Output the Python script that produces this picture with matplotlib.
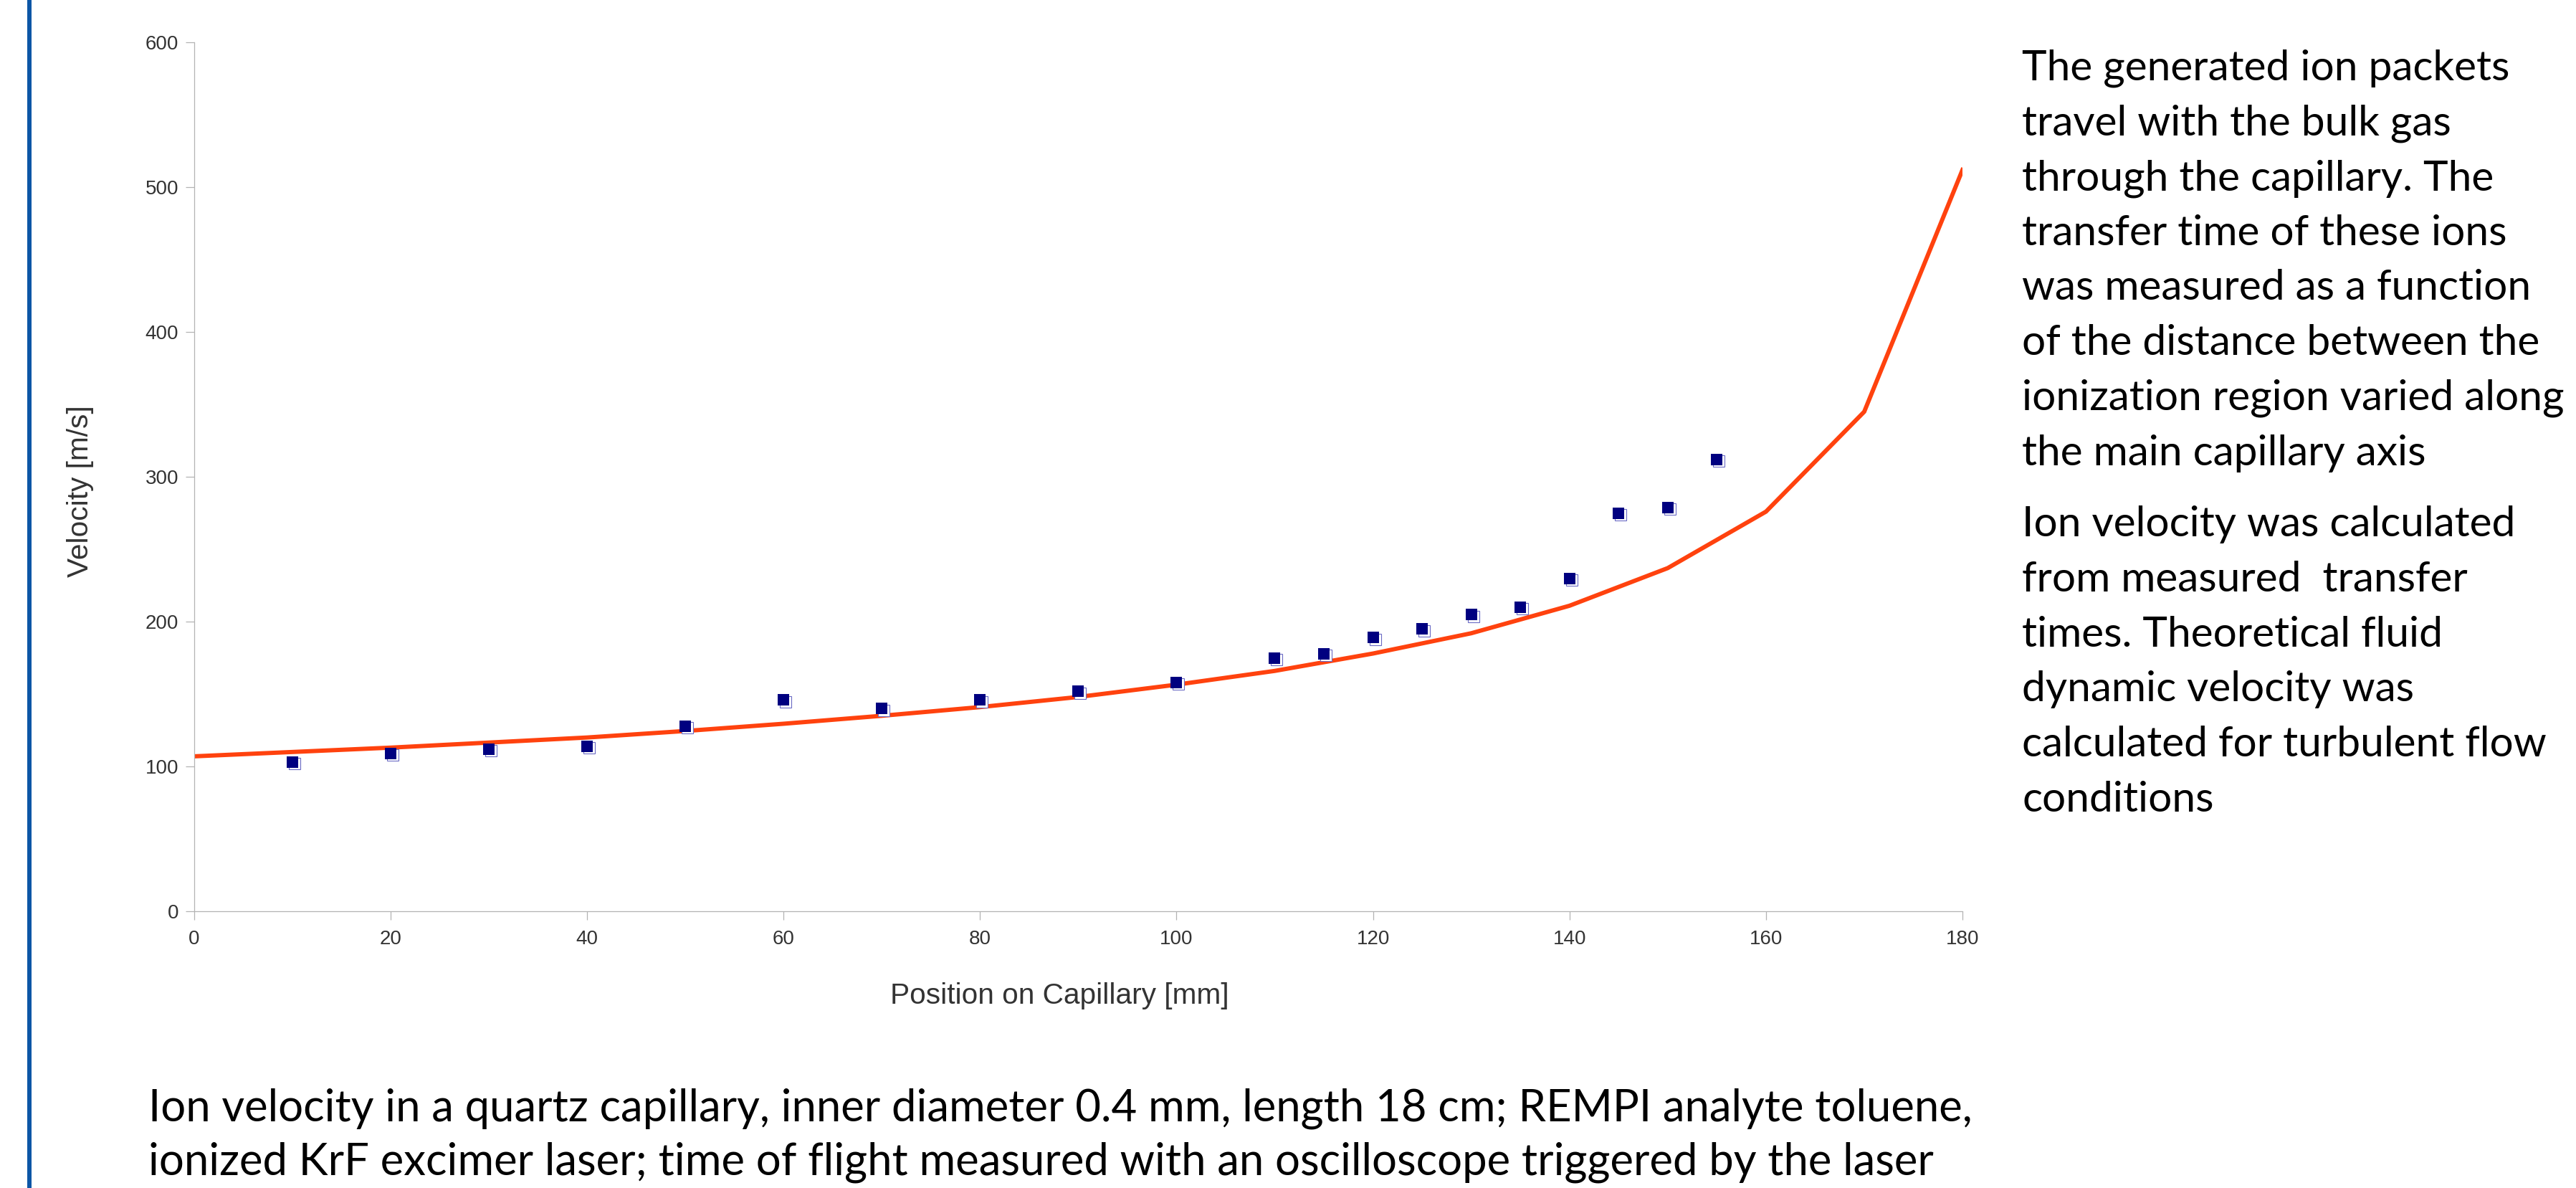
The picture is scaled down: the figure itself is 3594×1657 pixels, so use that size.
import matplotlib
matplotlib.use("Agg")
import matplotlib.pyplot as plt
import matplotlib.transforms as mtransforms
from matplotlib.patches import Rectangle

# Measured ion velocities along the capillary
pos_measured = [10, 20, 30, 40, 50, 60, 70, 80, 90, 100, 110, 115, 120, 125,
                130, 135, 140, 145, 150, 155]
vel_measured = [103, 109, 112, 114, 128, 146, 140, 146, 152, 158, 175, 178,
                189, 195, 205, 210, 230, 275, 279, 312]

# Theoretical turbulent-flow velocity
pos_theory = [0, 10, 20, 30, 40, 50, 60, 70, 80, 90, 100, 110, 120, 130, 140,
              150, 160, 170, 180]
vel_theory = [107, 110, 113, 116.5, 120, 124.5, 129.5, 135, 141, 148, 156.5,
              166, 178, 192, 211, 237, 276, 345, 512]

x_ticks = list(range(0, 181, 20))
y_ticks = list(range(0, 601, 100))

side_par1 = [
    "The generated ion packets",
    "travel with the bulk gas",
    "through the capillary. The",
    "transfer time of these ions",
    "was measured as a function",
    "of the distance between the",
    "ionization region varied along",
    "the main capillary axis",
]
side_par2 = [
    "Ion velocity was calculated",
    "from measured  transfer",
    "times. Theoretical fluid",
    "dynamic velocity was",
    "calculated for turbulent flow",
    "conditions",
]
caption = [
    "Ion velocity in a quartz capillary, inner diameter 0.4 mm, length 18 cm; REMPI analyte toluene,",
    "ionized KrF excimer laser; time of flight measured with an oscilloscope triggered by the laser",
]

W, H, DPI = 3594, 1657, 100
fig = plt.figure(figsize=(W / DPI, H / DPI), dpi=DPI)
fig.patch.set_facecolor("white")


def fx(px):
    return px / W


def fy(py):
    return 1 - py / H


# slide accent bar on the left edge
fig.add_artist(Rectangle((fx(38.3), 0), fx(6), 1, transform=fig.transFigure,
                         facecolor="#0d56a6", edgecolor="none"))

ax = fig.add_axes([fx(270.7), fy(1271), fx(2738) - fx(270.7), fy(59.3) - fy(1271)])
ax.set_xlim(0, 180)
ax.set_ylim(0, 600)
ax.set_xticks(x_ticks)
ax.set_yticks(y_ticks)
for s in ("top", "right"):
    ax.spines[s].set_visible(False)
for s in ("left", "bottom"):
    ax.spines[s].set_color("#b3b3b3")
    ax.spines[s].set_linewidth(0.9)
ax.tick_params(axis="both", direction="out", length=8.6, width=0.9,
               color="#b3b3b3", labelcolor="#333333", labelsize=20)
ax.tick_params(axis="x", pad=10)
ax.tick_params(axis="y", pad=7)
for lab in ax.get_xticklabels() + ax.get_yticklabels():
    lab.set_family("Liberation Sans")

ax.plot(pos_theory, vel_theory, color="#ff420e", linewidth=4.3,
        solid_joinstyle="miter", zorder=2)

# marker shadow, offset a few pixels right/down
shadow = ax.transData + mtransforms.ScaledTranslation(3 / DPI, -2.5 / DPI,
                                                       fig.dpi_scale_trans)
ax.plot(pos_measured, vel_measured, linestyle="none", marker="s",
        markersize=11.5, markerfacecolor="white", markeredgecolor="#6a6ac4",
        markeredgewidth=0.8, transform=shadow, zorder=3)
ax.plot(pos_measured, vel_measured, linestyle="none", marker="s",
        markersize=11.5, markerfacecolor="#000080", markeredgewidth=0,
        zorder=4)

fig.canvas.draw()
renderer = fig.canvas.get_renderer()


def fit_size(text, family, target_px, base=40.0):
    t = fig.text(0, 0, text, fontsize=base, family=family)
    w = t.get_window_extent(renderer).width
    t.remove()
    return base * target_px / w


axis_font = "Liberation Sans"
lab_size = fit_size("Position on Capillary [mm]", axis_font, 472)
fig.text(fx(1478), fy(1389), "Position on Capillary [mm]", family=axis_font,
         fontsize=lab_size, color="#333333", ha="center", va="center")
fig.text(fx(112), fy(685), "Velocity [m/s]", family=axis_font,
         fontsize=lab_size, color="#333333", ha="center", va="center",
         rotation=90)

body_font = "Lato"
side_size = fit_size(side_par1[0], body_font, 681)
for i, line in enumerate(side_par1):
    fig.text(fx(2821), fy(111.7 + 76.7 * i), line, family=body_font,
             fontsize=side_size, color="black", ha="left", va="baseline")
for i, line in enumerate(side_par2):
    fig.text(fx(2821), fy(748.3 + 76.7 * i), line, family=body_font,
             fontsize=side_size, color="black", ha="left", va="baseline")

cap_size = side_size * 1.05
for i, line in enumerate(caption):
    fig.text(fx(207), fy(1563.3 + 75 * i), line, family=body_font,
             fontsize=cap_size, color="black", ha="left", va="baseline")

fig.savefig("out.png", dpi=DPI, facecolor="white")
